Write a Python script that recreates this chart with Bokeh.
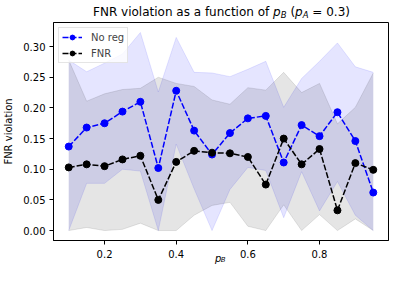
import numpy as np
from bokeh.plotting import figure
from bokeh.layouts import column
from bokeh.models import (Range1d, Legend, LegendItem, Label, FixedTicker,
                          NumeralTickFormatter, Div)
from bokeh.embed import file_html
from bokeh.resources import INLINE

# ---- data ----
p_B = [0.10, 0.15, 0.20, 0.25, 0.30, 0.35, 0.40, 0.45, 0.50,
       0.55, 0.60, 0.65, 0.70, 0.75, 0.80, 0.85, 0.90, 0.95]
noreg_mean = [0.137, 0.168, 0.175, 0.194, 0.210, 0.102, 0.228, 0.163, 0.124,
              0.159, 0.183, 0.187, 0.111, 0.172, 0.154, 0.193, 0.146, 0.062]
noreg_std = [0.141, 0.091, 0.098, 0.094, 0.113, 0.124, 0.087, 0.095, 0.133,
             0.092, 0.080, 0.089, 0.090, 0.076, 0.122, 0.113, 0.121, 0.196]
fnr_mean = [0.103, 0.108, 0.105, 0.116, 0.122, 0.050, 0.112, 0.130, 0.127,
            0.126, 0.120, 0.075, 0.150, 0.108, 0.133, 0.033, 0.110, 0.099]
fnr_std = [0.175, 0.103, 0.118, 0.114, 0.110, 0.200, 0.128, 0.105, 0.086,
           0.080, 0.113, 0.154, 0.108, 0.117, 0.107, 0.141, 0.091, 0.158]
x_ticks = [0.2, 0.4, 0.6, 0.8]
y_ticks = [0.00, 0.05, 0.10, 0.15, 0.20, 0.25, 0.30]
series_labels = ["No reg", "FNR"]

FONT = "DejaVu Sans"

x = np.array(p_B)
nm, ns = np.array(noreg_mean), np.array(noreg_std)
fm, fs = np.array(fnr_mean), np.array(fnr_std)
n_lo, n_hi = np.maximum(nm - ns, 0), nm + ns
f_lo, f_hi = np.maximum(fm - fs, 0), fm + fs

p = figure(frame_width=335, frame_height=218, output_backend="svg", toolbar_location=None,
           title=None,
           x_range=Range1d(0.0575, 0.9925), y_range=Range1d(-0.0162, 0.3393),
           min_border_left=45, min_border_right=12, min_border_top=2,
           min_border_bottom=48)
p.background_fill_color = "white"
p.border_fill_color = "white"
p.outline_line_color = "black"
p.outline_line_width = 1
p.xgrid.visible = False
p.ygrid.visible = False

# bands
p.varea(x=x, y1=n_lo, y2=n_hi, fill_color="blue", fill_alpha=0.1)
p.line(x, n_hi, line_color="blue", line_alpha=0.1, line_width=1)
p.line(x, n_lo, line_color="blue", line_alpha=0.1, line_width=1)
p.varea(x=x, y1=f_lo, y2=f_hi, fill_color="black", fill_alpha=0.1)
p.line(x, f_hi, line_color="black", line_alpha=0.1, line_width=1)
p.line(x, f_lo, line_color="black", line_alpha=0.1, line_width=1)

# mean lines
l1 = p.line(x, nm, line_color="blue", line_width=1.5, line_dash="6 2")
s1 = p.scatter(x, nm, size=7, fill_color="blue", line_color="blue")
l2 = p.line(x, fm, line_color="black", line_width=1.5, line_dash="6 2")
s2 = p.scatter(x, fm, size=7, fill_color="black", line_color="black")

legend = Legend(items=[LegendItem(label=series_labels[0], renderers=[l1, s1]),
                       LegendItem(label=series_labels[1], renderers=[l2, s2])],
                location="top_left", margin=5, padding=3, spacing=4,
                glyph_width=20, glyph_height=12, label_height=12, label_standoff=9,
                label_text_font_size="10px", label_text_font=FONT,
                border_line_color="#cccccc", background_fill_alpha=0.8)
p.add_layout(legend)

for ax in (p.xaxis, p.yaxis):
    ax.axis_line_color = "black"
    ax.major_tick_line_color = "black"
    ax.major_tick_out = 4
    ax.major_tick_in = 0
    ax.minor_tick_line_color = None
    ax.major_label_text_font = FONT
    ax.major_label_text_font_size = "10px"
    ax.major_label_text_color = "black"

p.xaxis.ticker = FixedTicker(ticks=x_ticks)
p.yaxis.ticker = FixedTicker(ticks=y_ticks)
p.yaxis.formatter = NumeralTickFormatter(format="0.00")
p.xaxis.major_label_standoff = 5
p.yaxis.major_label_standoff = 4
p.yaxis.axis_label = "FNR violation"
p.yaxis.axis_label_text_font = FONT
p.yaxis.axis_label_text_font_size = "10px"
p.yaxis.axis_label_text_font_style = "normal"
p.yaxis.axis_label_text_color = "black"
p.yaxis.axis_label_standoff = 6

# x-axis label "p_B": two labels in the below panel (each relative to its own row)
for txt, xs, ys, size in [("p", 161.5, 13, "10px"), ("B", 167.3, 19.5, "7px")]:
    p.add_layout(Label(x=xs, y=ys, x_units="screen", y_units="screen", text=txt,
                       text_font=FONT, text_font_size=size, text_font_style="italic",
                       text_color="black", text_baseline="alphabetic",
                       text_align="left"), "below")

sub = "font-size:8.5px;font-style:italic;position:relative;top:1.5px;"
title_html = (
    "<div style=\"font-family:'DejaVu Sans';font-size:12px;line-height:12px;"
    "color:black;white-space:nowrap;text-align:left;margin:0;padding:6px 0 0 93px;\">"
    "FNR violation as a function of <i>p</i><span style='%s'>B</span> "
    "(<i>p</i><span style='%s'>A</span> = 0.3)</div>" % (sub, sub)
)
title_div = Div(text=title_html, width=392, height=20, margin=(0, 0, 0, 0))

layout = column(title_div, p, spacing=0)
open("out.html", "w").write(file_html(layout, INLINE))
